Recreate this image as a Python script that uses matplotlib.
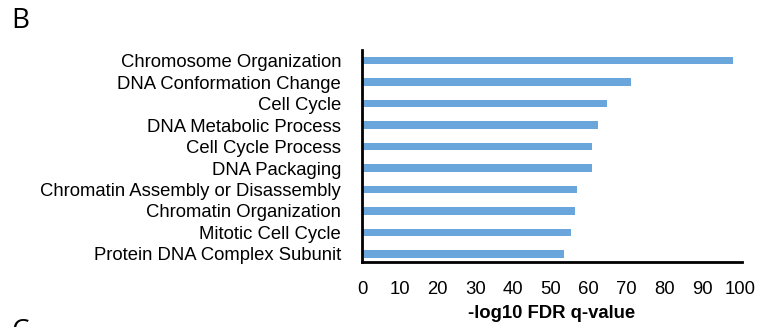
import numpy as np
import matplotlib.pyplot as plt

plt.rcParams['font.family'] = ['Liberation Sans', 'DejaVu Sans']

# GO term enrichment, top to bottom
terms = [
    'Chromosome Organization',
    'DNA Conformation Change',
    'Cell Cycle',
    'DNA Metabolic Process',
    'Cell Cycle Process',
    'DNA Packaging',
    'Chromatin Assembly or Disassembly',
    'Chromatin Organization',
    'Mitotic Cell Cycle',
    'Protein DNA Complex Subunit',
]
neg_log_fdr = [98.1, 71.2, 64.7, 62.3, 60.9, 60.9, 56.9, 56.4, 55.4, 53.4]
xticks = list(range(0, 101, 10))

fig = plt.figure(figsize=(7.59, 3.27), dpi=100)
ax = fig.add_axes([362 / 759, 65 / 327, 380 / 759, 212 / 327])

ypos = np.arange(len(terms))[::-1]
ax.barh(ypos, neg_log_fdr, height=0.35, color='#6AA6DC')

ax.set_xlim(0, 100.5)
ax.set_ylim(-0.38, 9.5)
ax.set_yticks(ypos)
ax.set_yticklabels(terms, fontsize=13.3)
ax.set_xticks(xticks)
ax.set_xticklabels([str(t) for t in xticks], fontsize=13.3)
ax.tick_params(axis='both', length=0)
ax.tick_params(axis='y', pad=15)
ax.tick_params(axis='x', pad=14)
ax.set_xlabel('-log10 FDR q-value', fontsize=13.3, fontweight='bold', labelpad=5)

for side in ['top', 'right']:
    ax.spines[side].set_visible(False)
for side in ['left', 'bottom']:
    ax.spines[side].set_linewidth(2)
    ax.spines[side].set_color('black')

# panel letters
fig.text(11 / 759, 1 - 21 / 327, 'B', fontsize=20, family='Open Sans', va='center', ha='left')
fig.text(11 / 759, 1 - 318 / 327, 'C', fontsize=20, family='Open Sans', va='top', ha='left')

fig.savefig('out.png', dpi=100)
